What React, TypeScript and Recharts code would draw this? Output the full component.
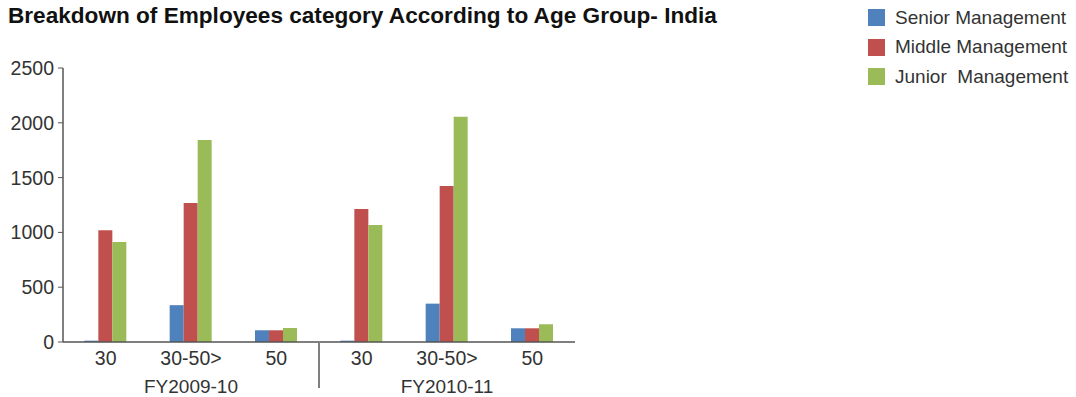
import React from 'react';
import { BarChart, Bar, XAxis, YAxis } from 'recharts';

const ageGroups = ['30', '30-50>', '50', '30', '30-50>', '50'];
const years = ['FY2009-10', 'FY2009-10', 'FY2009-10', 'FY2010-11', 'FY2010-11', 'FY2010-11'];
const senior = [12, 336, 107, 12, 350, 125];
const middle = [1020, 1268, 107, 1213, 1424, 125];
const junior = [912, 1844, 128, 1067, 2055, 162];
const yTicks = [0, 500, 1000, 1500, 2000, 2500];

const series = [
  { key: 'senior', name: 'Senior Management', color: '#4F81BD' },
  { key: 'middle', name: 'Middle Management', color: '#C0504D' },
  { key: 'junior', name: 'Junior  Management', color: '#9BBB59' },
];

const data = ageGroups.map((age, i) => ({
  age,
  year: years[i],
  senior: senior[i],
  middle: middle[i],
  junior: junior[i],
}));

const FONT = '"Liberation Sans", Arial, sans-serif';
const AXIS = '#555555';

const YearTick = (props: any) => {
  const { x, y, payload } = props;
  const i = payload.index;
  const half = payload.offset || 42.7;
  const out = [];
  // label only under the middle category of each year
  if (i % 3 === 1) {
    out.push(
      <text key="t" x={x} y={y + 16} textAnchor="middle" fill="#333" fontSize={19} fontFamily={FONT}>
        {payload.value}
      </text>
    );
  }
  if (i === 3) {
    out.push(<line key="l" x1={x - half} x2={x - half} y1={y - 34} y2={y + 11} stroke={AXIS} strokeWidth={1.5} />);
  }
  return <g>{out}</g>;
};

export default function App() {
  return (
    <div style={{ position: 'absolute', left: 0, top: 0, width: 1076, height: 397, background: '#fff' }}>
      <div
        style={{
          position: 'absolute',
          left: 8,
          top: 3,
          fontFamily: FONT,
          fontWeight: 'bold',
          fontSize: 22.6,
          color: '#111',
          whiteSpace: 'nowrap',
        }}
      >
        Breakdown of Employees category According to Age Group- India
      </div>
      <div style={{ position: 'absolute', left: 868, top: 3, fontFamily: FONT, fontSize: 19, color: '#333' }}>
        {series.map((s) => (
          <div key={s.key} style={{ display: 'flex', alignItems: 'center', height: 29.5, whiteSpace: 'pre' }}>
            <span style={{ width: 17, height: 17, background: s.color, display: 'inline-block', marginRight: 10 }} />
            {s.name}
          </div>
        ))}
      </div>
      <BarChart
        width={1076}
        height={397}
        data={data}
        margin={{ top: 68, right: 501, bottom: 0, left: 0 }}
        barCategoryGap="25%"
        barGap={0}
      >
        <XAxis
          dataKey="age"
          axisLine={{ stroke: AXIS, strokeWidth: 1.5 }}
          tickLine={false}
          tick={{ fill: '#333', fontSize: 19.5, fontFamily: FONT }}
          tickMargin={3}
          interval={0}
          height={27}
        />
        <XAxis
          xAxisId="year"
          dataKey="year"
          allowDuplicatedCategory
          axisLine={false}
          tickLine={false}
          interval={0}
          tick={<YearTick />}
          height={28}
        />
        <YAxis
          domain={[0, 2500]}
          ticks={yTicks}
          width={63}
          axisLine={{ stroke: AXIS, strokeWidth: 1.5 }}
          tickLine={{ stroke: AXIS }}
          tickSize={5}
          tickMargin={4}
          tick={{ fill: '#333', fontSize: 19.5, fontFamily: FONT }}
        />
        {series.map((s) => (
          <Bar key={s.key} dataKey={s.key} name={s.name} fill={s.color} isAnimationActive={false} />
        ))}
      </BarChart>
    </div>
  );
}
